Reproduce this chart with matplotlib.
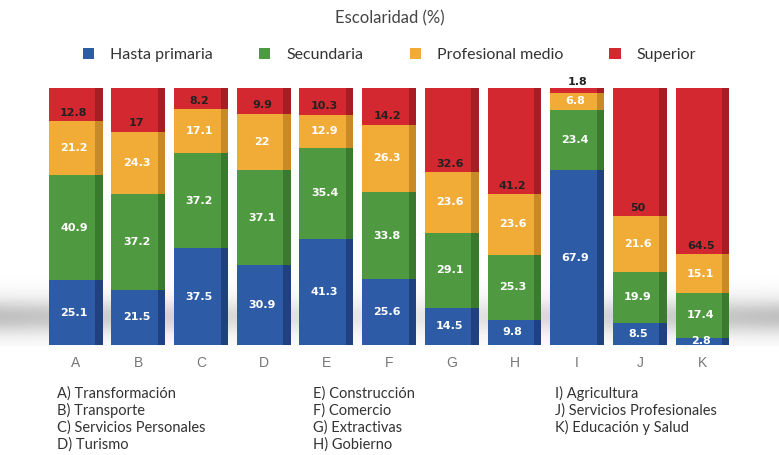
import matplotlib.pyplot as plt
import numpy as np

letters = ["A", "B", "C", "D", "E", "F", "G", "H", "I", "J", "K"]
sectors = ["Transformación", "Transporte", "Servicios Personales", "Turismo",
           "Construcción", "Comercio", "Extractivas", "Gobierno",
           "Agricultura", "Servicios Profesionales", "Educación y Salud"]
series = ["Hasta primaria", "Secundaria", "Profesional medio", "Superior"]
primaria = [25.1, 21.5, 37.5, 30.9, 41.3, 25.6, 14.5, 9.8, 67.9, 8.5, 2.8]
secundaria = [40.9, 37.2, 37.2, 37.1, 35.4, 33.8, 29.1, 25.3, 23.4, 19.9, 17.4]
prof_medio = [21.2, 24.3, 17.1, 22, 12.9, 26.3, 23.6, 23.6, 6.8, 21.6, 15.1]
superior = [12.8, 17, 8.2, 9.9, 10.3, 14.2, 32.6, 41.2, 1.8, 50, 64.5]

colors = ["#2d5ba6", "#4f9a40", "#f1ab37", "#d3282f"]
side_colors = ["#1f4180", "#3a7a2e", "#c98a25", "#a81d23"]

fig = plt.figure(figsize=(7.79, 4.55), dpi=100)

# soft grey shadow band behind the bars
bg = fig.add_axes([0, 0.24, 1, 0.16], zorder=0)
yy = np.linspace(0, 1, 60)
prof = np.exp(-((yy - 0.4) / 0.28) ** 2)
xx = np.linspace(0, 1, 200)
xprof = 0.45 + 0.55 * np.abs(xx - 0.5) * 2
shade = np.outer(prof, xprof)
bg.imshow(shade, cmap="Greys", vmin=0, vmax=2.8, aspect="auto",
          extent=[0, 1, 0, 1], origin="lower")
bg.axis("off")

ax = fig.add_axes([0.057, 0.242, 0.885, 0.565], zorder=1)
ax.patch.set_alpha(0)

x = np.arange(len(letters))
data = [primaria, secundaria, prof_medio, superior]
width = 0.86
bottom = np.zeros(len(letters))
for vals, c, sc, name in zip(data, colors, side_colors, series):
    vals = np.array(vals)
    ax.bar(x, vals, width, bottom=bottom, color=c, label=name, zorder=2)
    # darker side face for a light 3D look
    ax.bar(x + width / 2 - 0.06, vals, 0.12, bottom=bottom, color=sc, zorder=3)
    bottom += vals

# value labels
bottom = np.zeros(len(letters))
for vals, name in zip(data, series):
    for j, v in enumerate(vals):
        txt = f"{v:g}"
        if name == "Superior":
            if letters[j] == "I":
                ax.text(j, bottom[j] + v + 0.3, txt, ha="center", va="bottom",
                        fontsize=8, fontweight="bold", color="#222222", zorder=4)
            else:
                ax.text(j - 0.03, bottom[j] + 1.2, txt, ha="center", va="bottom",
                        fontsize=8, fontweight="bold", color="#222222", zorder=4)
        else:
            ax.text(j - 0.03, bottom[j] + v / 2, txt, ha="center", va="center",
                    fontsize=8, fontweight="bold", color="white", zorder=4)
    bottom += np.array(vals)

ax.set_xlim(-0.5, len(letters) - 0.5)
ax.set_ylim(0, 100)
ax.set_xticks(x)
ax.set_xticklabels(letters, family="Liberation Sans", fontsize=10, color="#777777")
ax.tick_params(axis="x", length=0, pad=8)
ax.set_yticks([])
for s in ax.spines.values():
    s.set_visible(False)

fig.text(0.5, 0.96, "Escolaridad (%)", ha="center", va="center",
         family="Lato", fontsize=12, color="#444444")
handles, labels = ax.get_legend_handles_labels()
leg = fig.legend(handles, labels, loc="center", bbox_to_anchor=(0.5, 0.88),
                 ncol=4, frameon=False, prop={"family": "Lato", "size": 11.5},
                 handlelength=0.7, handleheight=0.7, columnspacing=2.9,
                 handletextpad=1.0)
for t in leg.get_texts():
    t.set_color("#333333")

cols_x = [0.073, 0.402, 0.712]
groups = [range(0, 4), range(4, 8), range(8, 11)]
for cx, grp in zip(cols_x, groups):
    for r, k in enumerate(grp):
        fig.text(cx, 0.135 - r * 0.037, f"{letters[k]}) {sectors[k]}",
                 ha="left", va="center", family="Lato", fontsize=10.5,
                 color="#333333")

fig.savefig("out.png", dpi=100)
